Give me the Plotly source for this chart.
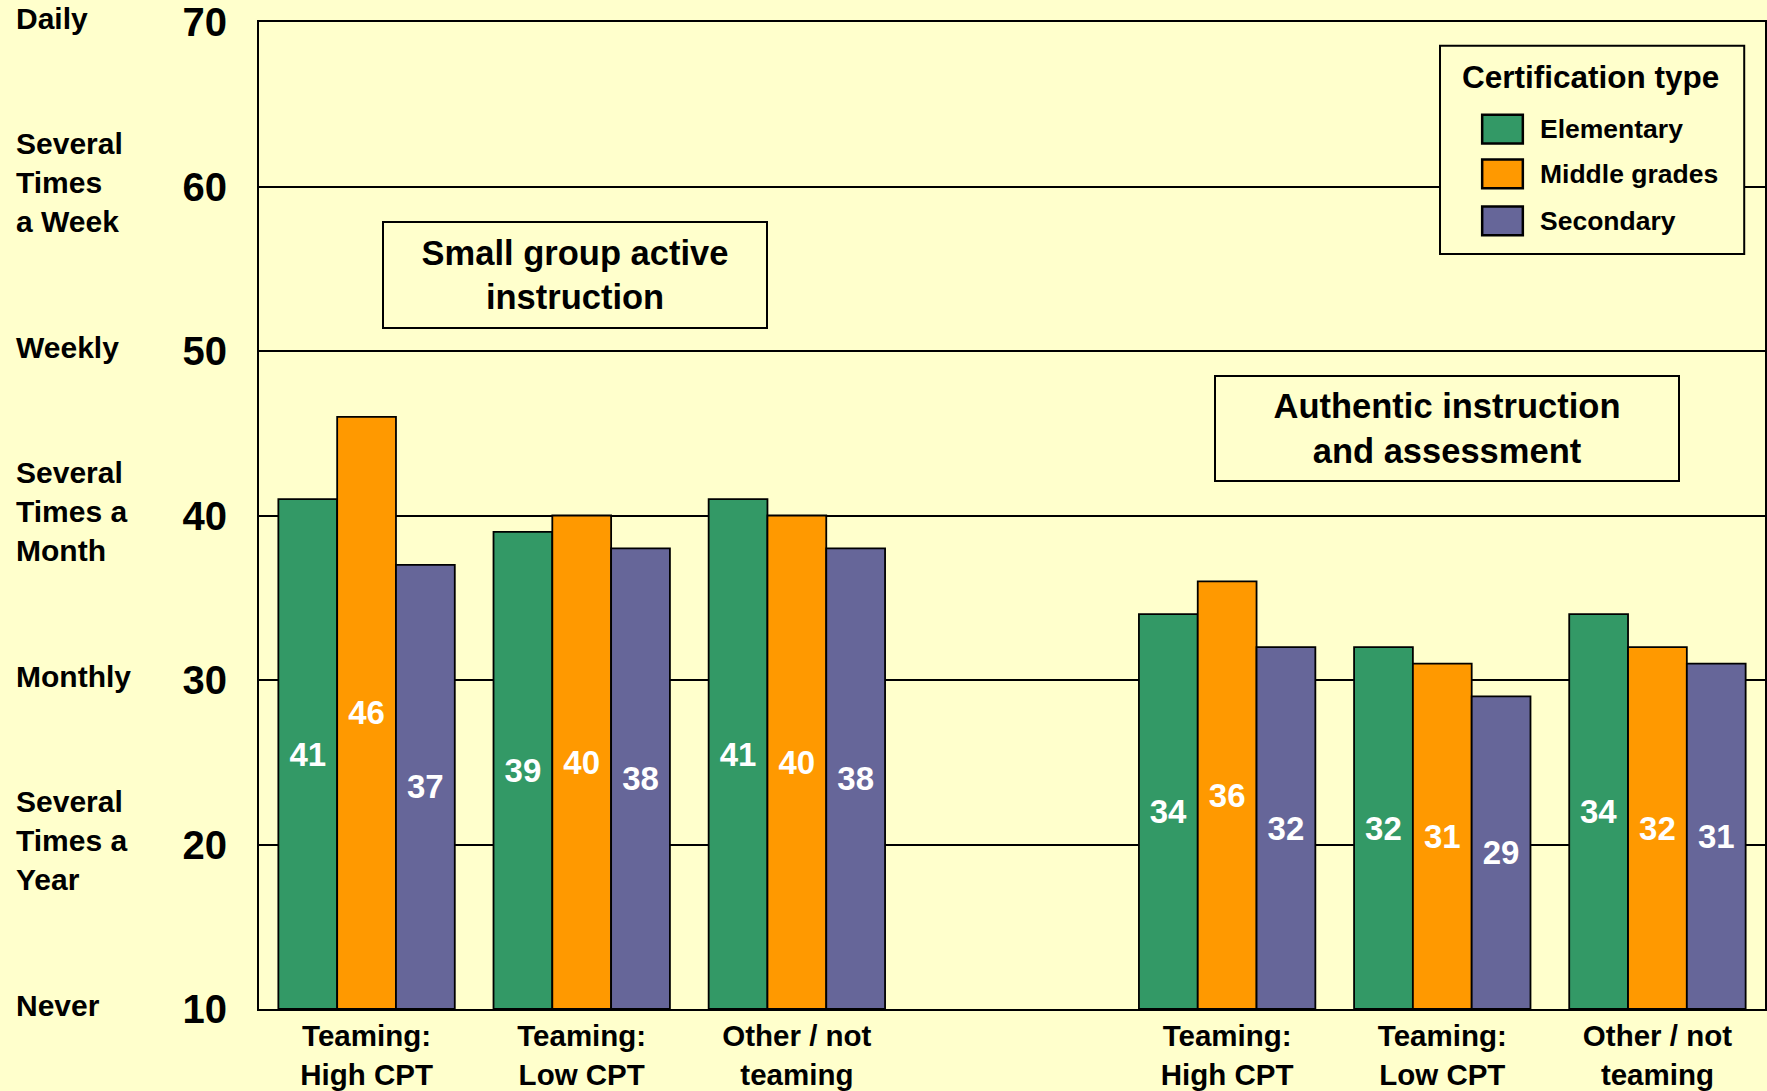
import plotly.graph_objects as go

# ---- data ----
categories = ["Teaming:<br>High CPT", "Teaming:<br>Low CPT", "Other / not<br>teaming"]
practice_groups = ["Small group active<br>instruction", "Authentic instruction<br>and assessment"]
series_names = ["Elementary", "Middle grades", "Secondary"]
elementary = [41, 39, 41, 34, 32, 34]
middle_grades = [46, 40, 40, 36, 31, 32]
secondary = [37, 38, 38, 32, 29, 31]
y_ticks = [10, 20, 30, 40, 50, 60, 70]
frequency_labels = ["Never", "Several<br>Times a<br>Year", "Monthly", "Several<br>Times a<br>Month",
                    "Weekly", "Several<br>Times<br>a Week", "Daily"]

# ---- styles ----
colors = ["#339966", "#FF9900", "#666699"]
BG = "#FFFFCC"
FONT = "Liberation Sans, Arial, sans-serif"
Y_MIN, Y_MAX = 10, 70

# x positions: one empty slot between practice groups
x_pos = []
tick_text = []
for g in range(len(practice_groups)):
    for c, lab in enumerate(categories):
        x_pos.append(g * (len(categories) + 1) + c)
        tick_text.append(lab)

fig = go.Figure()
for name, vals, col in zip(series_names, [elementary, middle_grades, secondary], colors):
    fig.add_trace(go.Bar(
        name=name, x=x_pos, y=[v - Y_MIN for v in vals], base=Y_MIN,
        text=[str(v) for v in vals], customdata=vals,
        hovertemplate=name + ": %{customdata}<extra></extra>",
        textposition="inside", insidetextanchor="middle", textangle=0,
        constraintext="none",
        textfont=dict(family=FONT, size=33, color="white", weight="bold"),
        marker=dict(color=col, line=dict(color="black", width=1.8)),
        showlegend=False,
    ))

annotations = []
# frequency labels at left
for yv, lab in zip(y_ticks, frequency_labels):
    annotations.append(dict(
        xref="paper", yref="y", x=-0.1625, y=yv, xanchor="left", yanchor="middle", yshift=4,
        text=lab, align="left", showarrow=False,
        font=dict(family=FONT, size=30, color="black", weight="bold")))

# practice group boxes
box_specs = [dict(y=54.6, w=382, h=104, xshift=-7), dict(y=45.3, w=462, h=103, xshift=5)]
for g, (lab, spec) in enumerate(zip(practice_groups, box_specs)):
    annotations.append(dict(
        xref="x", yref="y", x=g * (len(categories) + 1) + 1, y=spec["y"], xshift=spec["xshift"],
        text=lab, showarrow=False, align="center", width=spec["w"], height=spec["h"],
        bgcolor=BG, bordercolor="black", borderwidth=2, borderpad=0,
        font=dict(family=FONT, size=34.5, color="black", weight="bold")))

# manual legend (large swatches like the reference)
shapes = [dict(type="rect", xref="paper", yref="paper", x0=0.7842, x1=0.9862, y0=0.765, y1=0.976,
               fillcolor=BG, line=dict(color="black", width=2), layer="above")]
annotations.append(dict(xref="paper", yref="paper", x=0.8842, y=0.9445, xanchor="center", yanchor="middle",
                        text="Certification type", showarrow=False,
                        font=dict(family=FONT, size=31.5, color="black", weight="bold")))
legend_y = [0.8915, 0.8461, 0.7985]
for name, col, ly in zip(series_names, colors, legend_y):
    shapes.append(dict(type="rect", xref="paper", yref="paper", x0=0.8122, x1=0.8392,
                       y0=ly - 0.0145, y1=ly + 0.0145, fillcolor=col,
                       line=dict(color="black", width=2.5), layer="above"))
    annotations.append(dict(xref="paper", yref="paper", x=0.8492, y=ly, xanchor="left", yanchor="middle",
                            text=name, showarrow=False,
                            font=dict(family=FONT, size=26.5, color="black", weight="bold")))

fig.update_layout(
    width=1767, height=1091,
    margin=dict(l=259, r=0, t=19, b=75),
    paper_bgcolor=BG, plot_bgcolor=BG,
    barmode="group", bargap=0.18, bargroupgap=0,
    font=dict(family=FONT, color="black"),
    annotations=annotations, shapes=shapes,
    showlegend=False,
)
fig.update_xaxes(
    range=[-0.5, 6.5], tickvals=x_pos, ticktext=tick_text,
    showgrid=False, zeroline=False, showline=True, linecolor="black", linewidth=2, mirror=True,
    ticks="", ticklabelstandoff=0, ticklabeloverflow="allow",
    tickfont=dict(family=FONT, size=29.5, color="black", weight="bold"),
)
fig.update_yaxes(
    range=[Y_MIN, Y_MAX], tickvals=y_ticks,
    showgrid=True, gridcolor="black", gridwidth=1.5, zeroline=False,
    showline=True, linecolor="black", linewidth=2, mirror=True,
    ticks="", ticklabelstandoff=22, ticklabeloverflow="allow",
    tickfont=dict(family=FONT, size=40, color="black", weight="bold"),
)

fig.write_html("out.html", config={"displayModeBar": False},
               post_script="document.body.style.margin='0';document.body.style.background='#FFFFCC';")
